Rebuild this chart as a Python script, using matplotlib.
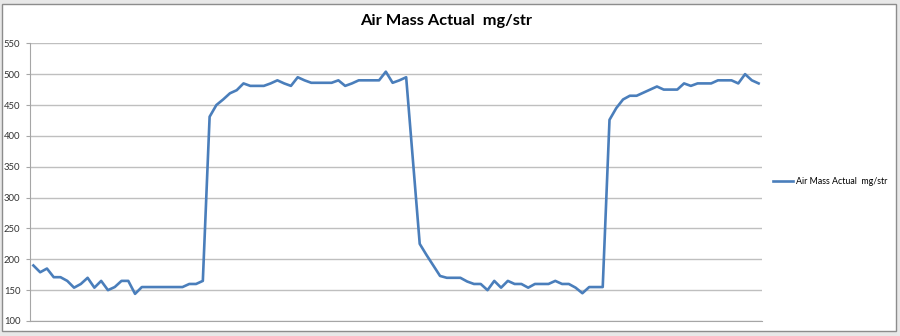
import matplotlib
matplotlib.use("Agg")
import matplotlib.pyplot as plt
from matplotlib.patches import Rectangle
import numpy as np

title = "Air Mass Actual  mg/str"
series_name = "Air Mass Actual  mg/str"

seg_low1 = [190, 179, 185, 171, 171, 165, 154, 160, 170, 154, 165, 150, 155, 165, 165,
            144, 155, 155, 155, 155, 155, 155, 155, 160, 160, 165]
seg_high1 = [431, 450, 459, 469, 474, 485, 481, 481, 481, 485, 490, 485, 481, 495, 490,
             486, 486, 486, 486, 490, 481, 485, 490, 490, 490, 490, 504, 486, 490, 495]
seg_drop = [360]
seg_low2 = [225, 207, 190, 173, 170, 170, 170, 164, 160, 160, 150, 165, 154, 165, 160,
            160, 154, 160, 160, 160, 165, 160, 160, 154, 145, 155, 155, 155]
seg_high2 = [426, 445, 459, 465, 465, 470, 475, 480, 475, 475, 475, 485, 481, 485, 485,
             485, 490, 490, 490, 485, 500, 490, 485]

values = seg_low1 + seg_high1 + seg_drop + seg_low2 + seg_high2
y_ticks = [100, 150, 200, 250, 300, 350, 400, 450, 500, 550]

plt.rcParams['font.family'] = ['Lato', 'DejaVu Sans']

W, H = 900, 336
fig = plt.figure(figsize=(9, 3.36), dpi=100)
fig.patch.set_facecolor('white')

# chart-area frame
fig.patches.append(Rectangle((0, 0), 1, 1, transform=fig.transFigure,
                             facecolor='#e8e8e8', edgecolor='none', zorder=-3))
fig.patches.append(Rectangle((1.5 / W, 1 - 331 / H), (896 - 1.5) / W, (331 - 4) / H,
                             transform=fig.transFigure, facecolor='white',
                             edgecolor='#8c8c8c', linewidth=1.0, zorder=-2))

ax = fig.add_axes([30 / W, 1 - 321 / H, (762 - 30) / W, (321 - 43.3) / H])
ax.set_facecolor('white')
x = np.arange(len(values))
ax.plot(x, values, color='#4A7EBB', linewidth=1.9, label=series_name, zorder=3)

ax.set_xlim(-0.5, len(values) - 0.5)
ax.set_ylim(100, 550)
ax.set_yticks(y_ticks)
ax.set_yticklabels([str(v) for v in y_ticks], fontsize=6.8, color='#333333')
ax.set_xticks([])
ax.yaxis.grid(True, color='#bfbfbf', linewidth=1.0)
ax.set_axisbelow(True)
for s in ['top', 'right']:
    ax.spines[s].set_visible(False)
ax.spines['left'].set_color('#a6a6a6')
ax.spines['bottom'].set_color('#a6a6a6')
ax.tick_params(axis='y', length=3, color='#a6a6a6', pad=4)

fig.text(446 / W, 1 - 21 / H, title, ha='center', va='center',
         fontsize=11.8, fontweight='bold', color='black')

fig.legend(loc='center left', bbox_to_anchor=(773 / W, 1 - 182 / H),
           frameon=False, fontsize=6.4, handlelength=2.2, handletextpad=0.35,
           borderaxespad=0, borderpad=0)

fig.savefig('out.png', dpi=100, facecolor=fig.get_facecolor())
